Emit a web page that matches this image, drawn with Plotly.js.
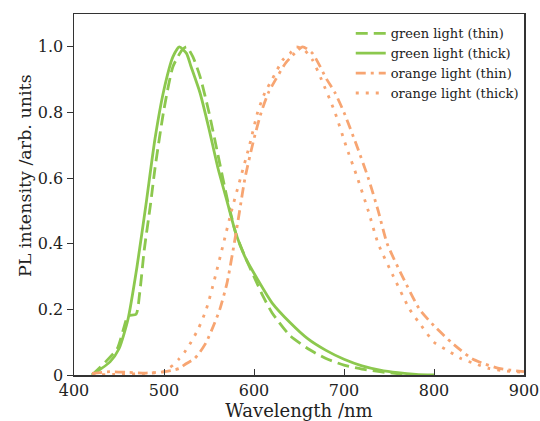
<!DOCTYPE html>
<html><head><meta charset="utf-8">
<script src="https://cdn.plot.ly/plotly-3.0.1.min.js"></script>
<style>body{margin:0;background:#fff}#g{width:540px;height:421px}</style>
</head><body><div id="g"></div>
<script>
const greenThinX = [420,435,448,455,460,469,473,478,485,490,500,510,520,525,532,540,550,560,570,580,590,600,610,620,640,660,680,700,720,740,760,780];
const greenThinY = [0,0.04,0.08,0.14,0.18,0.185,0.25,0.38,0.52,0.63,0.81,0.94,0.99,1.0,0.97,0.91,0.80,0.67,0.54,0.43,0.36,0.30,0.24,0.19,0.12,0.08,0.05,0.03,0.018,0.01,0.004,0];
const greenThickX = [420,440,450,460,470,480,490,500,510,517,525,530,540,550,560,570,580,590,600,620,640,660,680,700,720,740,760,780,800];
const greenThickY = [0,0.04,0.08,0.17,0.33,0.52,0.72,0.87,0.97,1.0,0.98,0.94,0.86,0.75,0.63,0.53,0.43,0.36,0.31,0.22,0.16,0.11,0.075,0.048,0.028,0.015,0.007,0.002,0];
const orangeThinX = [420,440,460,480,500,510,517,525,534,540,547,555,562,570,578,584,590,600,608,616,624,635,645,654,665,681,690,700,714,727,738,748,765,784,800,819,830,842,855,872,885,900];
const orangeThinY = [0.005,0.01,0.008,0.006,0.01,0.015,0.02,0.035,0.05,0.07,0.10,0.15,0.2,0.28,0.4,0.5,0.6,0.72,0.8,0.86,0.9,0.95,0.98,1.0,0.98,0.9,0.86,0.8,0.7,0.6,0.5,0.4,0.3,0.2,0.15,0.1,0.075,0.05,0.035,0.02,0.015,0.01];
const orangeThickX = [420,450,480,500,505,510,517,523,530,538,547,556,566,575,585,595,604,612,620,632,640,647,656,665,675,690,702,715,727,738,755,773,786,800,815,830,845,861,880,900];
const orangeThickY = [0,0.002,0.005,0.01,0.02,0.03,0.05,0.07,0.1,0.14,0.2,0.29,0.4,0.5,0.6,0.7,0.8,0.86,0.9,0.96,0.98,1.0,0.99,0.96,0.9,0.8,0.7,0.6,0.5,0.4,0.3,0.2,0.15,0.1,0.075,0.05,0.035,0.02,0.012,0.008];
const names = ['green light (thin)','green light (thick)','orange light (thin)','orange light (thick)'];
const xTicks = [400,500,600,700,800,900];
const yTicks = [0,0.2,0.4,0.6,0.8,1.0];
const yTickText = ['0','0.2','0.4','0.6','0.8','1.0'];
const GREEN = '#8cc84e', ORANGE = '#f7a572';
const traces = [
  {x:greenThinX,y:greenThinY,name:names[0],line:{color:GREEN,width:2.8,dash:'12px,6px'}},
  {x:greenThickX,y:greenThickY,name:names[1],line:{color:GREEN,width:2.8}},
  {x:orangeThinX,y:orangeThinY,name:names[2],line:{color:ORANGE,width:2.8,dash:'10px,5px,3px,5px'}},
  {x:orangeThickX,y:orangeThickY,name:names[3],line:{color:ORANGE,width:2.8,dash:'3px,7px'}}
].map(t=>{t.type='scatter';t.mode='lines';t.line.shape='spline';t.line.smoothing=0.6;return t;});
const FAM = 'DejaVu Serif, Liberation Serif, serif';
Plotly.newPlot('g',traces,{
  width:540,height:421,
  margin:{l:74,r:16,t:14,b:46},
  paper_bgcolor:'#fff',plot_bgcolor:'#fff',
  font:{family:FAM,color:'#222'},
  showlegend:true,
  legend:{x:0.615,y:0.988,xanchor:'left',yanchor:'top',bgcolor:'rgba(0,0,0,0)',font:{family:FAM,size:13,color:'#222'},tracegroupgap:0,itemwidth:30},
  xaxis:{range:[400,900],tickvals:xTicks,ticks:'inside',ticklen:6,tickcolor:'#333',
    showline:true,mirror:true,linecolor:'#333',linewidth:1.5,showgrid:false,zeroline:false,
    tickfont:{size:16},title:{text:'Wavelength /nm',font:{size:18},standoff:1}},
  yaxis:{range:[0,1.1],tickvals:yTicks,ticktext:yTickText,ticks:'outside',ticklen:6,tickcolor:'#333',
    showline:true,mirror:true,linecolor:'#333',linewidth:1.5,showgrid:false,zeroline:false,
    tickfont:{size:16}},
  annotations:[{text:'PL intensity /arb. units',xref:'paper',yref:'paper',x:0,y:0.551,xanchor:'center',yanchor:'middle',
    xshift:-49,textangle:-90,showarrow:false,font:{family:FAM,size:17.5,color:'#222'}}]
},{displayModeBar:false,staticPlot:true});
</script></body></html>
